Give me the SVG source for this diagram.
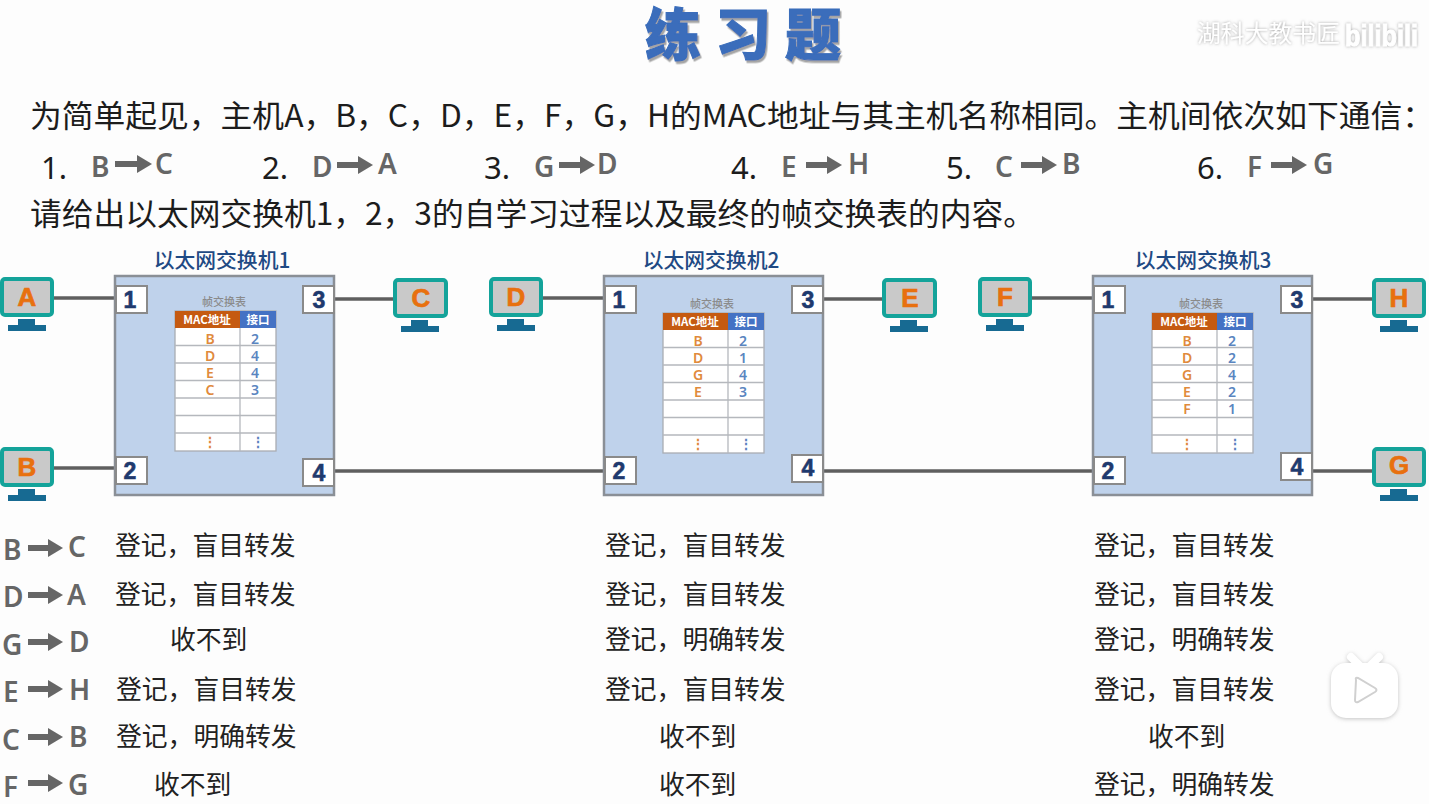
<svg xmlns="http://www.w3.org/2000/svg" width="1429" height="804" viewBox="0 0 1429 804">
<style>
text{font-family:"Noto Sans CJK SC","Noto Sans",sans-serif}
.body{font-size:31px;fill:#1c1c1c}
.num{font-size:31px;fill:#1c1c1c;font-family:"Noto Sans",sans-serif}
.ltr{font-size:28px;fill:#666;font-weight:600;font-family:"Noto Sans",sans-serif}
.res{font-size:25.8px;fill:#222}
.sw{fill:#bfd2eb;stroke:#8a8f96;stroke-width:2.5}
.swt{font-size:20.8px;fill:#1f4a84;font-weight:500;text-anchor:middle}
.pb{fill:#fff;stroke:#8a8a8a;stroke-width:2}
.pn{font-family:"Liberation Sans",sans-serif;font-weight:bold;font-size:23px;fill:#1f3a6e;text-anchor:middle;stroke:#1f3a6e;stroke-width:.6}
.scr{fill:#c9c9c9;stroke:#14a39a;stroke-width:4}
.std{fill:#176a92}
.hl{font-family:"Liberation Sans",sans-serif;font-weight:bold;font-size:26px;fill:#e8700f;text-anchor:middle;stroke:#e8700f;stroke-width:.7}
.tc{font-size:11px;fill:#8a8a8a;text-anchor:middle;font-weight:500}
.tb{fill:#fff;stroke:#a9adb3;stroke-width:1.3}
.tr{stroke:#b5b8bd;stroke-width:1.3}
.hm{fill:#c55a11}
.hp{fill:#4472c4}
.ht{font-size:11.5px;fill:#fff;font-weight:700;text-anchor:middle}
.cm{font-size:14px;fill:#e08a3c;font-weight:600;text-anchor:middle;font-family:"Noto Sans",sans-serif}
.cp{font-size:14px;fill:#5a85c0;font-weight:600;text-anchor:middle;font-family:"Noto Sans",sans-serif}
.link{stroke:#5f5f5f;stroke-width:3.5;fill:none}
.arr{stroke:#666;stroke-width:6;fill:none;marker-end:url(#ah)}
</style>
<defs>
<marker id="ah" markerUnits="userSpaceOnUse" markerWidth="16" markerHeight="20" refX="1" refY="10" orient="auto"><path d="M0 1L15 10L0 19Z" fill="#666"/></marker>
<filter id="ts" x="-10%" y="-20%" width="125%" height="150%"><feDropShadow dx="1.5" dy="2.5" stdDeviation="0.6" flood-color="#a5a5a5"/></filter>
<filter id="wm" x="-10%" y="-50%" width="120%" height="200%"><feDropShadow dx="0" dy="0" stdDeviation="1.6" flood-color="#9a9a9a" flood-opacity="0.9"/></filter>
<filter id="tv" x="-20%" y="-20%" width="140%" height="140%"><feDropShadow dx="0" dy="1" stdDeviation="2" flood-color="#aaa" flood-opacity="0.7"/></filter>
</defs>
<rect width="1429" height="804" fill="#fdfdfd"/>

<text id="title" x="645" y="55" font-size="56" font-weight="900" fill="#3a6dbb" stroke="#3a6dbb" stroke-width="1" letter-spacing="14" filter="url(#ts)" style="font-family:'Liberation Sans','Noto Sans CJK SC',sans-serif">练习题</text>
<g id="watermark" filter="url(#wm)" fill="#fff">
<text x="1197" y="42" font-size="24" textLength="143" lengthAdjust="spacingAndGlyphs" fill="#fff">湖科大教书匠</text>
<text x="1345" y="46" font-size="30" font-weight="700" textLength="73" lengthAdjust="spacingAndGlyphs" fill="#fff" stroke="#fff" stroke-width="1" style="font-family:'Liberation Sans',sans-serif">bilibili</text>
</g>

<g id="question">
<text class="body" x="30" y="127" textLength="1404" lengthAdjust="spacingAndGlyphs">为简单起见，主机A，B，C，D，E，F，G，H的MAC地址与其主机名称相同。主机间依次如下通信：</text>
<text class="num" x="41" y="179">1.</text>
<text class="num" x="262" y="179">2.</text>
<text class="num" x="484" y="179">3.</text>
<text class="num" x="731" y="179">4.</text>
<text class="num" x="946" y="179">5.</text>
<text class="num" x="1197" y="179">6.</text>
<text class="ltr" x="91" y="177">B</text><text class="ltr" x="155" y="174">C</text>
<text class="ltr" x="312" y="177">D</text><text class="ltr" x="378" y="174">A</text>
<text class="ltr" x="534" y="177">G</text><text class="ltr" x="597" y="174">D</text>
<text class="ltr" x="781" y="177">E</text><text class="ltr" x="848" y="174">H</text>
<text class="ltr" x="995" y="177">C</text><text class="ltr" x="1062" y="174">B</text>
<text class="ltr" x="1247" y="177">F</text><text class="ltr" x="1313" y="174">G</text>
<text class="body" x="30" y="225" textLength="1005" lengthAdjust="spacingAndGlyphs">请给出以太网交换机1，2，3的自学习过程以及最终的帧交换表的内容。</text>
</g>

<g id="connectors">
<path class="link" d="M53 298H116"/><path class="link" d="M53 468H116"/><path class="link" d="M334 299H394"/><path class="link" d="M334 471H604"/>
<path class="link" d="M543 298H604"/><path class="link" d="M823 299H883"/><path class="link" d="M823 471H1093"/>
<path class="link" d="M1032 298H1093"/><path class="link" d="M1312 299H1373"/><path class="link" d="M1312 471H1373"/>
</g>

<g id="flow-arrows">
<path class="arr" d="M115 164H138"/><path class="arr" d="M337 165H359"/><path class="arr" d="M559 165H581"/><path class="arr" d="M806 165H828"/><path class="arr" d="M1021 165H1043"/><path class="arr" d="M1271 165H1293"/>
<path class="arr" d="M28 548H49"/><path class="arr" d="M28 595H49"/><path class="arr" d="M28 642H49"/><path class="arr" d="M28 689H49"/><path class="arr" d="M28 737H49"/><path class="arr" d="M28 783H49"/>
</g>

<g id="switch1">
<rect class="sw" x="115" y="276" width="219" height="219"/>
<text class="swt" x="222" y="268">以太网交换机1</text>
<rect class="pb" x="116" y="286" width="31" height="27"/><text class="pn" x="130" y="308">1</text>
<rect class="pb" x="303" y="286" width="31" height="27"/><text class="pn" x="319" y="308">3</text>
<rect class="pb" x="116" y="457" width="31" height="27"/><text class="pn" x="130" y="479">2</text>
<rect class="pb" x="303" y="459" width="31" height="27"/><text class="pn" x="319" y="481">4</text>
<g id="table1">
<text class="tc" x="224" y="306">帧交换表</text>
<rect class="tb" x="175" y="311" width="101" height="140"/>
<rect class="hm" x="175" y="311" width="65" height="17"/><rect class="hp" x="240" y="311" width="36" height="17"/>
<text class="ht" x="207" y="324">MAC地址</text><text class="ht" x="258" y="324">接口</text>
<path class="tr" d="M240 328V451M175 345.500H276M175 363H276M175 380.500H276M175 398H276M175 415.500H276M175 433H276"/>
<text class="cm" x="210" y="344">B</text><text class="cp" x="255" y="344">2</text>
<text class="cm" x="210" y="361">D</text><text class="cp" x="255" y="361">4</text>
<text class="cm" x="210" y="378">E</text><text class="cp" x="255" y="378">4</text>
<text class="cm" x="210" y="395">C</text><text class="cp" x="255" y="395">3</text>
<text class="cm" x="210" y="447">⋮</text><text class="cp" x="258" y="447">⋮</text>
</g>
</g>

<g id="switch2">
<rect class="sw" x="604" y="276" width="219" height="219"/>
<text class="swt" x="711" y="268">以太网交换机2</text>
<rect class="pb" x="605" y="286" width="31" height="27"/><text class="pn" x="619" y="308">1</text>
<rect class="pb" x="792" y="286" width="31" height="27"/><text class="pn" x="808" y="308">3</text>
<rect class="pb" x="605" y="457" width="31" height="27"/><text class="pn" x="619" y="479">2</text>
<rect class="pb" x="792" y="455" width="31" height="27"/><text class="pn" x="808" y="476">4</text>
<g id="table2">
<text class="tc" x="712" y="308">帧交换表</text>
<rect class="tb" x="663" y="313" width="101" height="140"/>
<rect class="hm" x="663" y="313" width="65" height="17"/><rect class="hp" x="728" y="313" width="36" height="17"/>
<text class="ht" x="695" y="326">MAC地址</text><text class="ht" x="746" y="326">接口</text>
<path class="tr" d="M728 330V453M663 347.500H764M663 365H764M663 382.500H764M663 400H764M663 417.500H764M663 435H764"/>
<text class="cm" x="698" y="346">B</text><text class="cp" x="743" y="346">2</text>
<text class="cm" x="698" y="363">D</text><text class="cp" x="743" y="363">1</text>
<text class="cm" x="698" y="380">G</text><text class="cp" x="743" y="380">4</text>
<text class="cm" x="698" y="397">E</text><text class="cp" x="743" y="397">3</text>
<text class="cm" x="698" y="449">⋮</text><text class="cp" x="746" y="449">⋮</text>
</g>
</g>

<g id="switch3">
<rect class="sw" x="1093" y="276" width="219" height="219"/>
<text class="swt" x="1203" y="268">以太网交换机3</text>
<rect class="pb" x="1094" y="286" width="31" height="27"/><text class="pn" x="1108" y="308">1</text>
<rect class="pb" x="1281" y="286" width="31" height="27"/><text class="pn" x="1297" y="308">3</text>
<rect class="pb" x="1094" y="457" width="31" height="27"/><text class="pn" x="1108" y="479">2</text>
<rect class="pb" x="1281" y="453" width="31" height="27"/><text class="pn" x="1297" y="475">4</text>
<g id="table3">
<text class="tc" x="1201" y="308">帧交换表</text>
<rect class="tb" x="1152" y="313" width="101" height="140"/>
<rect class="hm" x="1152" y="313" width="65" height="17"/><rect class="hp" x="1217" y="313" width="36" height="17"/>
<text class="ht" x="1184" y="326">MAC地址</text><text class="ht" x="1235" y="326">接口</text>
<path class="tr" d="M1217 330V453M1152 347.500H1253M1152 365H1253M1152 382.500H1253M1152 400H1253M1152 417.500H1253M1152 435H1253"/>
<text class="cm" x="1187" y="346">B</text><text class="cp" x="1232" y="346">2</text>
<text class="cm" x="1187" y="363">D</text><text class="cp" x="1232" y="363">2</text>
<text class="cm" x="1187" y="380">G</text><text class="cp" x="1232" y="380">4</text>
<text class="cm" x="1187" y="397">E</text><text class="cp" x="1232" y="397">2</text>
<text class="cm" x="1187" y="414">F</text><text class="cp" x="1232" y="414">1</text>
<text class="cm" x="1187" y="449">⋮</text><text class="cp" x="1235" y="449">⋮</text>
</g>
</g>

<g id="hostA"><rect class="scr" x="2" y="279" width="50" height="36" rx="3"/><path class="std" d="M18 319H35V325H46V331H8V325H18Z"/><text class="hl" x="27" y="306">A</text></g>
<g id="hostB"><rect class="scr" x="2" y="449" width="50" height="36" rx="3"/><path class="std" d="M18 489H35V495H46V501H8V495H18Z"/><text class="hl" x="27" y="476">B</text></g>
<g id="hostC"><rect class="scr" x="395" y="280" width="51" height="36" rx="3"/><path class="std" d="M411 320H428V326H439V332H401V326H411Z"/><text class="hl" x="421" y="307">C</text></g>
<g id="hostD"><rect class="scr" x="491" y="279" width="50" height="36" rx="3"/><path class="std" d="M507 319H524V325H535V331H497V325H507Z"/><text class="hl" x="516" y="306">D</text></g>
<g id="hostE"><rect class="scr" x="884" y="280" width="51" height="36" rx="3"/><path class="std" d="M900 320H917V326H928V332H890V326H900Z"/><text class="hl" x="910" y="307">E</text></g>
<g id="hostF"><rect class="scr" x="980" y="279" width="50" height="36" rx="3"/><path class="std" d="M996 319H1013V325H1024V331H986V325H996Z"/><text class="hl" x="1005" y="306">F</text></g>
<g id="hostH"><rect class="scr" x="1374" y="280" width="50" height="36" rx="3"/><path class="std" d="M1390 320H1407V326H1418V332H1380V326H1390Z"/><text class="hl" x="1399" y="307">H</text></g>
<g id="hostG"><rect class="scr" x="1374" y="449" width="50" height="36" rx="3"/><path class="std" d="M1390 489H1407V495H1418V501H1380V495H1390Z"/><text class="hl" x="1399" y="474">G</text></g>

<g id="results">
<text class="ltr" x="3" y="560">B</text><text class="ltr" x="68" y="557">C</text>
<text class="ltr" x="3" y="607">D</text><text class="ltr" x="67" y="605">A</text>
<text class="ltr" x="2" y="655">G</text><text class="ltr" x="69" y="652">D</text>
<text class="ltr" x="3" y="702">E</text><text class="ltr" x="69" y="700">H</text>
<text class="ltr" x="2" y="750">C</text><text class="ltr" x="69" y="747">B</text>
<text class="ltr" x="3" y="797">F</text><text class="ltr" x="68" y="795">G</text>

<text class="res" x="115" y="555">登记，盲目转发</text>
<text class="res" x="115" y="604">登记，盲目转发</text>
<text class="res" x="170" y="649">收不到</text>
<text class="res" x="116" y="699">登记，盲目转发</text>
<text class="res" x="116" y="746">登记，明确转发</text>
<text class="res" x="154" y="794">收不到</text>

<text class="res" x="605" y="555">登记，盲目转发</text>
<text class="res" x="605" y="604">登记，盲目转发</text>
<text class="res" x="605" y="649">登记，明确转发</text>
<text class="res" x="605" y="699">登记，盲目转发</text>
<text class="res" x="659" y="746">收不到</text>
<text class="res" x="659" y="794">收不到</text>

<text class="res" x="1094" y="555">登记，盲目转发</text>
<text class="res" x="1094" y="604">登记，盲目转发</text>
<text class="res" x="1094" y="649">登记，明确转发</text>
<text class="res" x="1094" y="699">登记，盲目转发</text>
<text class="res" x="1148" y="746">收不到</text>
<text class="res" x="1094" y="794">登记，明确转发</text>
</g>

<g id="player-icon" filter="url(#tv)">
<path d="M1351 657L1361 667M1379 657L1369 667" stroke="#fff" stroke-width="8" stroke-linecap="round"/>
<rect x="1331" y="663" width="67" height="55" rx="15" fill="#fff"/>
<path d="M1356 680Q1355 677 1358 678L1375 688Q1378 690 1375 692L1358 702Q1355 703 1355 700Z" fill="#fff" stroke="#d0d0d0" stroke-width="2"/>
</g>
</svg>
